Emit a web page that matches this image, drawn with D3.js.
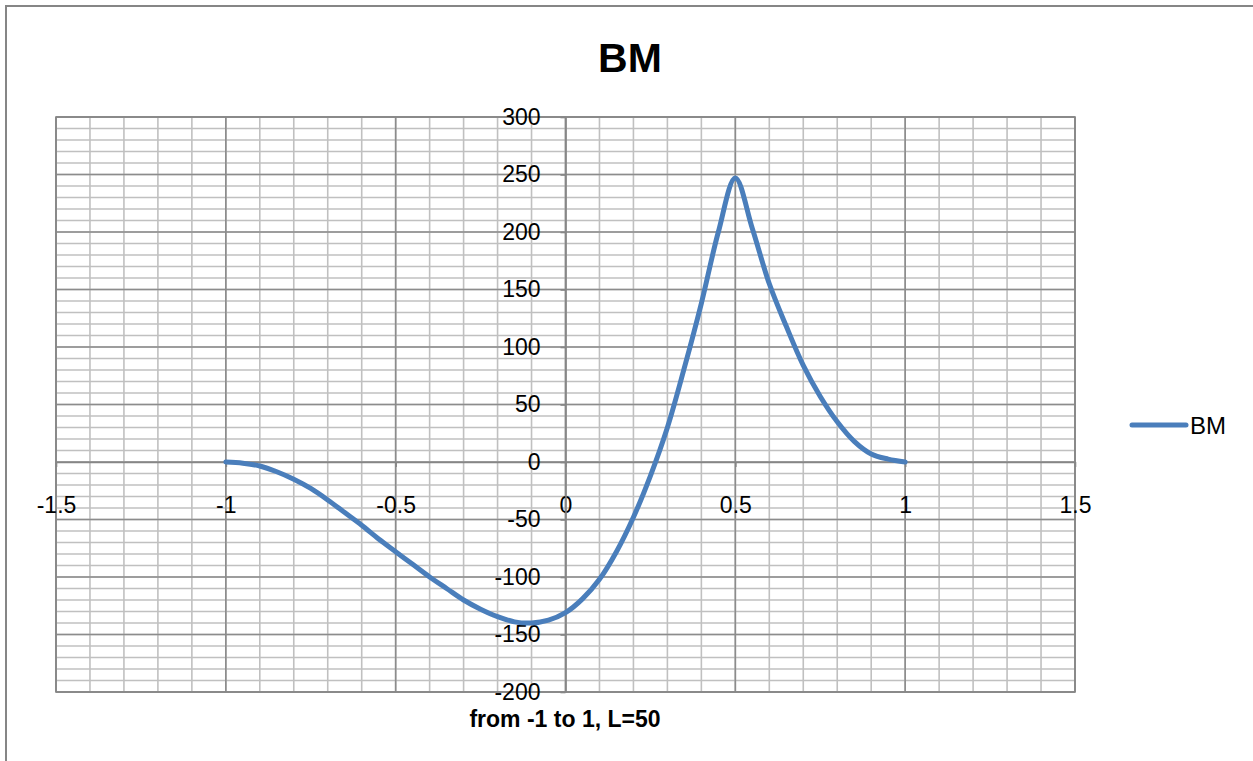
<!DOCTYPE html>
<html>
<head>
<meta charset="utf-8">
<script src="https://cdn.jsdelivr.net/npm/d3@7"></script>
<style>
  html, body { margin: 0; padding: 0; background: #fff; }
  svg { display: block; font-family: "Liberation Sans", Arial, sans-serif; }
</style>
</head>
<body>
<div id="chart"></div>
<script>
// Data
const xValues = [-1, -0.95, -0.9, -0.85, -0.8, -0.75, -0.7, -0.65, -0.6, -0.55, -0.5,
  -0.45, -0.4, -0.35, -0.3, -0.25, -0.2, -0.15, -0.1, -0.05, 0,
  0.05, 0.1, 0.15, 0.2, 0.25, 0.3, 0.35, 0.4, 0.45, 0.5,
  0.55, 0.6, 0.65, 0.7, 0.75, 0.8, 0.85, 0.9, 0.95, 1];
const bmValues = [0, -1, -3.5, -8.5, -15, -23, -33, -44, -55, -67, -78,
  -89, -100, -110, -120, -128, -134.5, -139, -140, -137.5, -131,
  -119, -102, -78, -48, -12, 30, 82, 138, 200, 247,
  203, 155, 118, 84, 57, 35, 18, 7, 2.5, 0];
const xTicks = [-1.5, -1, -0.5, 0, 0.5, 1, 1.5];
const yTicks = [-200, -150, -100, -50, 0, 50, 100, 150, 200, 250, 300];
const seriesName = "BM";
const chartTitle = "BM";
const xTitle = "from -1 to 1, L=50";

function drawChart() {
  const width = 1253;
  const height = 761;
  const plot = { left: 56, right: 1075, top: 117, bottom: 692 };
  const lineCol = "#4A7EBB";
  const axisCol = "#868686";

  const svg = d3.select("#chart")
    .append("svg")
    .attr("width", width)
    .attr("height", height);

  // chart area border (only top/left are visible in the frame)
  svg.append("rect")
    .attr("x", 6).attr("y", 6)
    .attr("width", 1400).attr("height", 900)
    .attr("fill", "none")
    .attr("stroke", axisCol)
    .attr("stroke-width", 2);

  const x = d3.scaleLinear().domain([-1.5, 1.5]).range([plot.left, plot.right]);
  const y = d3.scaleLinear().domain([-200, 300]).range([plot.bottom, plot.top]);

  // minor gridlines
  const grid = svg.append("g");
  grid.selectAll(".vminor")
    .data(d3.range(-15, 16).map((i) => i / 10))
    .enter()
    .append("line")
    .attr("x1", (d) => x(d)).attr("x2", (d) => x(d))
    .attr("y1", plot.top).attr("y2", plot.bottom)
    .attr("stroke", "#c0c0c0")
    .attr("stroke-width", 1.6);
  grid.selectAll(".hminor")
    .data(d3.range(-20, 31).map((i) => i * 10))
    .enter()
    .append("line")
    .attr("x1", plot.left).attr("x2", plot.right)
    .attr("y1", (d) => y(d)).attr("y2", (d) => y(d))
    .attr("stroke", "#c0c0c0")
    .attr("stroke-width", 1.6);

  // major gridlines
  grid.selectAll(".vmajor")
    .data(xTicks)
    .enter()
    .append("line")
    .attr("x1", (d) => x(d)).attr("x2", (d) => x(d))
    .attr("y1", plot.top).attr("y2", plot.bottom)
    .attr("stroke", "#8c8c8c")
    .attr("stroke-width", 1.6);
  grid.selectAll(".hmajor")
    .data(yTicks)
    .enter()
    .append("line")
    .attr("x1", plot.left).attr("x2", plot.right)
    .attr("y1", (d) => y(d)).attr("y2", (d) => y(d))
    .attr("stroke", "#8c8c8c")
    .attr("stroke-width", 1.6);

  // plot area border
  svg.append("rect")
    .attr("x", plot.left).attr("y", plot.top)
    .attr("width", plot.right - plot.left)
    .attr("height", plot.bottom - plot.top)
    .attr("fill", "none")
    .attr("stroke", axisCol)
    .attr("stroke-width", 1.6);

  // axes crossing at zero
  const xAxis = d3.axisBottom(x)
    .tickValues(xTicks)
    .tickFormat((d) => String(d))
    .tickSizeInner(5)
    .tickSizeOuter(0)
    .tickPadding(30);
  const yAxis = d3.axisLeft(y)
    .tickValues(yTicks)
    .tickFormat((d) => String(d))
    .tickSizeInner(5)
    .tickSizeOuter(0)
    .tickPadding(20);

  const gx = svg.append("g")
    .attr("transform", `translate(0, ${y(0)})`)
    .call(xAxis);
  const gy = svg.append("g")
    .attr("transform", `translate(${x(0)}, 0)`)
    .call(yAxis);

  [gx, gy].forEach((g) => {
    g.selectAll("path, line").attr("stroke", axisCol).attr("stroke-width", 1.6);
    g.selectAll("text")
      .attr("fill", "#000")
      .style("font-size", "23px")
      .style("font-family", "\"Liberation Sans\", Arial, sans-serif");
  });

  // series
  const line = d3.line()
    .x((d) => x(d[0]))
    .y((d) => y(d[1]))
    .curve(d3.curveCatmullRom.alpha(0.5));

  svg.append("path")
    .datum(xValues.map((v, i) => [v, bmValues[i]]))
    .attr("d", line)
    .attr("fill", "none")
    .attr("stroke", lineCol)
    .attr("stroke-width", 5)
    .attr("stroke-linecap", "round")
    .attr("stroke-linejoin", "round");

  // title
  svg.append("text")
    .attr("x", 630)
    .attr("y", 72)
    .attr("text-anchor", "middle")
    .style("font-weight", "bold")
    .style("font-size", "41px")
    .text(chartTitle);

  // x axis title
  svg.append("text")
    .attr("x", 565)
    .attr("y", 727)
    .attr("text-anchor", "middle")
    .style("font-weight", "bold")
    .style("font-size", "23px")
    .text(xTitle);

  // legend
  const legend = svg.append("g").attr("transform", "translate(1132, 425)");
  legend.append("line")
    .attr("x1", 0).attr("x2", 54)
    .attr("y1", 0).attr("y2", 0)
    .attr("stroke", lineCol)
    .attr("stroke-width", 5)
    .attr("stroke-linecap", "round");
  legend.append("text")
    .attr("x", 58)
    .attr("y", 0)
    .attr("dy", "0.36em")
    .style("font-size", "24px")
    .text(seriesName);
}

window.onload = function () {
  drawChart();
};
</script>
</body>
</html>
